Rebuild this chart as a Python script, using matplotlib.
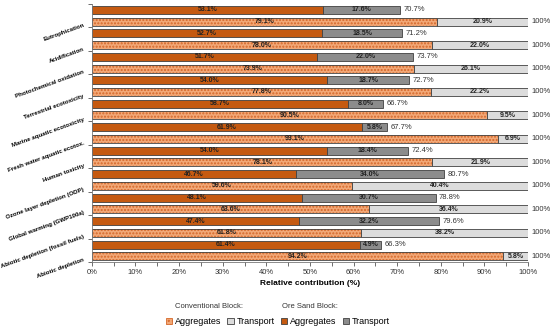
import numpy as np
import matplotlib.pyplot as plt
from matplotlib.patches import Patch

plt.rcParams['font.family'] = ['Liberation Sans', 'DejaVu Sans']

categories = ["Eutrophication", "Acidification", "Photochemical oxidation",
              "Terrestrial ecotoxicity", "Marine aquatic ecotoxicity",
              "Fresh water aquatic ecotox.", "Human toxicity",
              "Ozone layer depletion (ODP)", "Global warming (GWP100a)",
              "Abiotic depletion (fossil fuels)", "Abiotic depletion"]
ore_agg = [53.1, 52.7, 51.7, 54.0, 58.7, 61.9, 54.0, 46.7, 48.1, 47.4, 61.4]
ore_trans = [17.6, 18.5, 22.0, 18.7, 8.0, 5.8, 18.4, 34.0, 30.7, 32.2, 4.9]
ore_total = [70.7, 71.2, 73.7, 72.7, 66.7, 67.7, 72.4, 80.7, 78.8, 79.6, 66.3]
conv_agg = [79.1, 78.0, 73.9, 77.8, 90.5, 93.1, 78.1, 59.6, 63.6, 61.8, 94.2]
conv_trans = [20.9, 22.0, 26.1, 22.2, 9.5, 6.9, 21.9, 40.4, 36.4, 38.2, 5.8]

dark_or = '#C55A11'
light_or = '#F2A877'
dot_or = '#D5682A'
gray = '#8C8C8C'
lgray = '#DCDCDC'
edge = '#404040'

fig = plt.figure(figsize=(5.5, 3.31), dpi=100)
ax = fig.add_axes([0.167, 0.208, 0.793, 0.780])

n = len(categories)
y_ore = np.arange(n) * 2
y_conv = y_ore + 1
h = 0.68

# ore sand block (solid)
ax.barh(y_ore, ore_agg, height=h, color=dark_or, edgecolor=edge, linewidth=0.6)
ax.barh(y_ore, ore_trans, left=ore_agg, height=h, color=gray, edgecolor=edge, linewidth=0.6)
# conventional block (dotted)
ax.barh(y_conv, conv_agg, height=h, color=light_or, edgecolor=dot_or, linewidth=0, hatch='.....')
ax.barh(y_conv, conv_agg, height=h, color='none', edgecolor=edge, linewidth=0.6)
ax.barh(y_conv, conv_trans, left=conv_agg, height=h, color=lgray, edgecolor=edge, linewidth=0.6)

fs_in = 5
for i in range(n):
    ax.text(ore_agg[i] / 2, y_ore[i], f"{ore_agg[i]:.1f}%", ha='center', va='center',
            fontsize=fs_in, fontweight='bold', color='#222222')
    ax.text(ore_agg[i] + ore_trans[i] / 2, y_ore[i], f"{ore_trans[i]:.1f}%", ha='center',
            va='center', fontsize=fs_in, fontweight='bold', color='#222222')
    ax.text(ore_total[i] + 0.8, y_ore[i], f"{ore_total[i]:.1f}%", ha='left', va='center',
            fontsize=5.5, color='#333333')
    ax.text(conv_agg[i] / 2, y_conv[i], f"{conv_agg[i]:.1f}%", ha='center', va='center',
            fontsize=fs_in, fontweight='bold', color='#222222')
    ax.text(conv_agg[i] + conv_trans[i] / 2, y_conv[i], f"{conv_trans[i]:.1f}%", ha='center',
            va='center', fontsize=fs_in, fontweight='bold', color='#222222')
    ax.text(100.8, y_conv[i], "100%", ha='left', va='center', fontsize=5.5, color='#333333')

ax.set_xlim(0, 100)
ax.set_ylim(2 * n - 0.5, -0.5)
ax.set_xticks(np.arange(0, 101, 10))
ax.set_xticks(np.arange(0, 101, 5), minor=True)
ax.set_xticklabels([f"{v}%" for v in range(0, 101, 10)], fontsize=5.5, color='#333333')
ax.set_xlabel("Relative contribution (%)", fontsize=6, fontweight='bold', labelpad=3)

ax.set_yticks(np.arange(-0.5, 2 * n, 2))
ax.set_yticklabels([""] + categories, fontsize=4.4, fontweight='bold', rotation=20,
                   ha='right', va='bottom', rotation_mode='anchor')
ax.tick_params(axis='y', length=3, width=0.6, color='#555555', pad=2)
ax.tick_params(axis='x', which='both', length=3, width=0.6, color='#555555', pad=2)
for s in ['top', 'right']:
    ax.spines[s].set_visible(False)
for s in ['left', 'bottom']:
    ax.spines[s].set_color('#777777')
    ax.spines[s].set_linewidth(0.6)

handles = [Patch(facecolor=light_or, edgecolor=dot_or, hatch='....', linewidth=0.6),
           Patch(facecolor=lgray, edgecolor=edge, linewidth=0.6),
           Patch(facecolor=dark_or, edgecolor=edge, linewidth=0.6),
           Patch(facecolor=gray, edgecolor=edge, linewidth=0.6)]
labels = ["Aggregates", "Transport", "Aggregates", "Transport"]
fig.legend(handles, labels, ncol=4, loc='center', bbox_to_anchor=(0.505, 0.028),
           frameon=False, fontsize=6.5, handlelength=0.7, handleheight=0.7,
           handletextpad=0.3, columnspacing=0.7, borderpad=0)
fig.text(0.318, 0.075, "Conventional Block:", fontsize=5.5, color='#333333', va='center')
fig.text(0.513, 0.075, "Ore Sand Block:", fontsize=5.5, color='#333333', va='center')

fig.savefig("out.png", dpi=100)
